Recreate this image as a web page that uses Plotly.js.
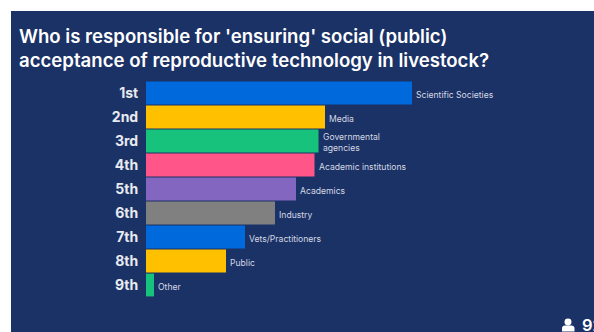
<!DOCTYPE html>
<html>
<head>
<meta charset="utf-8">
<script src="https://cdn.plot.ly/plotly-3.0.1.min.js"></script>
<style>
  html, body { margin: 0; padding: 0; width: 594px; height: 332px; background: #fff; overflow: hidden; }
  #chart { position: absolute; left: 11px; top: 11px; width: 583px; height: 321px; }
</style>
</head>
<body>
<div id="chart"></div>
<script>
// Ranking of who should ensure public acceptance of livestock reproductive technology
const ranks = ["1st", "2nd", "3rd", "4th", "5th", "6th", "7th", "8th", "9th"];
const scores = [266, 179, 172.5, 168.5, 150, 129, 99, 80, 8];
const answers = ["Scientific Societies", "Media", "Governmental<br>agencies", "Academic institutions",
                 "Academics", "Industry", "Vets/Practitioners", "Public", "Other"];
const barColors = ["#0069db", "#ffc000", "#17c27c", "#ff5588", "#8366c0", "#808080", "#0069db", "#ffc000", "#17c27c"];
const titleLines = ["Who is responsible for 'ensuring' social (public)", "acceptance of reproductive technology in livestock?"];
const respondents = "92";

const panel = "#1b3266";
const W = 583, H = 321;
const M = { l: 135, r: 0, t: 69.5, b: 34.6 };
const plotW = W - M.l - M.r, plotH = H - M.t - M.b;

const trace = {
  type: "bar",
  orientation: "h",
  x: scores,
  y: ranks,
  width: 0.95,
  marker: { color: barColors, line: { width: 0 } },
  hoverinfo: "x+y"
};

// Answer names sit just past the end of each bar
const labels = answers.map((t, i) => ({
  x: scores[i], y: ranks[i], xref: "x", yref: "y",
  text: t, showarrow: false, xanchor: "left", align: "left", xshift: 2, yshift: -1.5,
  font: { family: "Inter, sans-serif", size: 8.6, color: "#d5d9e4" }
}));

// Panel pixels to plot-area paper coordinates, for the corner icon and counter
const px = v => (v - M.l) / plotW, py = v => 1 - (v - M.t) / plotH;

// Respondent counter in the bottom corner, running off the edge
const counter = {
  xref: "paper", yref: "paper", x: px(568.5), y: py(315), yanchor: "middle", xanchor: "left",
  text: respondents, showarrow: false,
  font: { family: "Inter, sans-serif", size: 16.5, weight: 600, color: "#ffffff" }
};

const icon = [
  { type: "circle", xref: "paper", yref: "paper", x0: px(553.5), x1: px(560.5), y0: py(315), y1: py(308),
    fillcolor: "#ffffff", line: { width: 0 } },
  { type: "path", xref: "paper", yref: "paper",
    path: `M ${px(551)} ${py(321)} L ${px(551)} ${py(318)} Q ${px(551)} ${py(315)} ${px(554)} ${py(315)} ` +
          `L ${px(560)} ${py(315)} Q ${px(563.5)} ${py(315)} ${px(563.5)} ${py(318)} L ${px(563.5)} ${py(321)} Z`,
    fillcolor: "#ffffff", line: { width: 0 } }
];

const layout = {
  width: W,
  height: H,
  paper_bgcolor: panel,
  plot_bgcolor: panel,
  showlegend: false,
  margin: { l: M.l, r: M.r, t: M.t, b: M.b, pad: 0 },
  title: {
    text: titleLines.join("<br>"),
    x: 8 / W, xref: "container", xanchor: "left",
    y: 1 - 32 / H, yref: "container", yanchor: "top",
    font: { family: "Inter, sans-serif", size: 18.6, weight: 600, color: "#ffffff" }
  },
  xaxis: { range: [0, 448], visible: false, fixedrange: true },
  yaxis: {
    type: "category", categoryorder: "array", categoryarray: ranks,
    autorange: "reversed",
    showgrid: false, zeroline: false, showline: false,
    ticks: "outside", ticklen: 4, tickcolor: "rgba(0,0,0,0)",
    tickfont: { family: "Inter, sans-serif", size: 14, weight: 700, color: "#e8eaf0" },
    fixedrange: true
  },
  annotations: labels.concat([counter]),
  shapes: icon
};

Plotly.newPlot("chart", [trace], layout, { displayModeBar: false, staticPlot: true });
</script>
</body>
</html>
